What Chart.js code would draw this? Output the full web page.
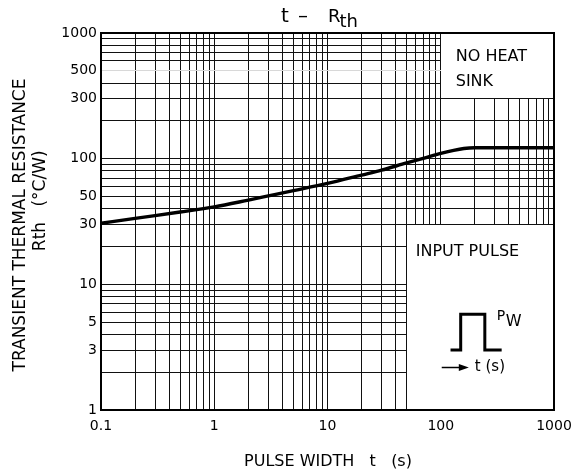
<!DOCTYPE html>
<html><head><meta charset="utf-8">
<script src="https://cdn.jsdelivr.net/npm/chart.js@4.4.0/dist/chart.umd.min.js"></script>
<style>html,body{margin:0;padding:0;background:#fff}#wrap{width:584px;height:475px;position:relative}</style>
</head><body><div id="wrap"><canvas id="c" width="584" height="475" style="width:584px;height:475px"></canvas></div>
<script>
// ---- data ----
const pulseWidth = [0.1, 0.2, 0.5, 1, 2, 3, 5, 10, 20, 30, 50, 70, 100, 130, 160, 200, 1000];
const thermalRes = [30.6, 33.5, 37.6, 41.3, 46.8, 50.5, 55.6, 63.5, 74, 81, 92.5, 100.5, 110, 116.5, 120.5, 122, 122];

const xTickValues = [0.1,0.2,0.3,0.4,0.5,0.6,0.7,0.8,0.9,1,2,3,4,5,6,7,8,9,10,20,30,40,50,60,70,80,90,100,200,300,400,500,600,700,800,900,1000];
const yTickValues = [1,2,3,4,5,6,7,8,9,10,20,30,40,50,60,70,80,90,100,200,300,400,500,600,700,800,900,1000];
const xTickLabels = [0.1, 1, 10, 100, 1000];
const yTickLabels = [1, 3, 5, 10, 30, 50, 100, 300, 500, 1000];
const fadedYGrid = [500];

// inset boxes (data units)
const noHeatSinkT = [100, 1000];
const noHeatSinkR = [300, 1000];
const inputPulseT = [50, 1000];
const inputPulseR = [1, 30];

// pulse symbol (data units)
const pulseIconT = [122, 150, 150, 245, 245, 345];
const pulseIconR = [3, 3, 5.77, 5.77, 3, 3];
const arrowT = [102, 177];
const arrowR = 2.18;

const FONT = '"DejaVu Sans", sans-serif';

const decor = {
  id: 'decor',
  beforeDatasetsDraw(chart) {
    const ctx = chart.ctx, xs = chart.scales.x, ys = chart.scales.y, a = chart.chartArea;
    ctx.save();
    ctx.fillStyle = '#fff';
    let x0 = Math.floor(xs.getPixelForValue(noHeatSinkT[0])) + 1;
    let y1 = Math.floor(ys.getPixelForValue(noHeatSinkR[0]));
    ctx.fillRect(x0, a.top + 1, a.right - x0 - 1, y1 - a.top - 1);
    x0 = Math.floor(xs.getPixelForValue(inputPulseT[0])) + 1;
    let y0 = Math.floor(ys.getPixelForValue(inputPulseR[1])) + 1;
    ctx.fillRect(x0, y0, a.right - x0 - 1, a.bottom - y0 - 1);
    ctx.strokeStyle = '#000';
    ctx.lineWidth = 2;
    ctx.strokeRect(a.left, a.top, a.right - a.left, a.bottom - a.top);
    ctx.restore();
  },
  afterDatasetsDraw(chart) {
    const ctx = chart.ctx, xs = chart.scales.x, ys = chart.scales.y;
    const X = v => xs.getPixelForValue(v), Y = v => ys.getPixelForValue(v);
    ctx.save();
    ctx.fillStyle = '#000';
    ctx.textBaseline = 'middle';
    ctx.textAlign = 'left';
    ctx.font = '16px ' + FONT;
    ctx.fillText('NO HEAT', X(135.6), Y(641));
    ctx.fillText('SINK', X(135.6), Y(405));
    ctx.fillText('INPUT PULSE', X(60.1), Y(18));
    ctx.font = '15px ' + FONT;
    ctx.fillText('t (s)', X(200), Y(arrowR));
    ctx.textBaseline = 'alphabetic';
    ctx.font = '14px ' + FONT;
    ctx.fillText('P', X(312), Y(5.17));
    ctx.font = '16px ' + FONT;
    ctx.fillText('W', X(374), Y(4.63));
    const ax0 = X(arrowT[0]), ax1 = X(arrowT[1]), ay = Math.round(Y(arrowR)) + 0.5;
    ctx.strokeStyle = '#000';
    ctx.lineWidth = 1.5;
    ctx.beginPath(); ctx.moveTo(ax0, ay); ctx.lineTo(ax1 - 8, ay); ctx.stroke();
    ctx.beginPath(); ctx.moveTo(ax1, ay); ctx.lineTo(ax1 - 10, ay - 3.5); ctx.lineTo(ax1 - 10, ay + 3.5); ctx.closePath(); ctx.fill();
    ctx.restore();
  },
  afterDraw(chart) {
    const ctx = chart.ctx;
    ctx.save();
    ctx.fillStyle = '#000';
    ctx.textBaseline = 'alphabetic';
    ctx.textAlign = 'left';
    ctx.font = '20px ' + FONT;
    ctx.fillText('t', 281, 22);
    ctx.fillText('\u2013', 298, 22);
    ctx.font = '18px ' + FONT;
    ctx.fillText('R', 328, 22);
    const rw = ctx.measureText('R').width;
    ctx.fillText('th', 328 + rw - 1, 27);
    ctx.textAlign = 'center';
    ctx.textBaseline = 'middle';
    ctx.font = '16px ' + FONT;
    ctx.fillText('PULSE WIDTH   t   (s)', 328, 462);
    ctx.font = '17px ' + FONT;
    ctx.save(); ctx.translate(21, 225); ctx.rotate(-Math.PI / 2);
    ctx.fillText('TRANSIENT THERMAL RESISTANCE', 0, 0); ctx.restore();
    ctx.save(); ctx.translate(41, 236.5); ctx.rotate(-Math.PI / 2);
    ctx.fillText('Rth', 0, 0); ctx.restore();
    ctx.save(); ctx.translate(41, 178.5); ctx.rotate(-Math.PI / 2);
    ctx.fillText('(\u00B0C/W)', 0, 0); ctx.restore();
    ctx.restore();
  }
};

const gridColor = ctx => (ctx.tick && fadedYGrid.includes(ctx.tick.value)) ? '#d8d8d8' : '#111';

new Chart(document.getElementById('c'), {
  type: 'line',
  data: {
    datasets: [
      {
        data: pulseWidth.map((t, i) => ({ x: t, y: thermalRes[i] })),
        borderColor: '#000', borderWidth: 3.4, pointRadius: 0,
        cubicInterpolationMode: 'monotone', fill: false
      },
      {
        data: pulseIconT.map((t, i) => ({ x: t, y: pulseIconR[i] })),
        borderColor: '#000', borderWidth: 3, pointRadius: 0, tension: 0, fill: false,
        borderJoinStyle: 'miter'
      }
    ]
  },
  options: {
    responsive: false,
    animation: false,
    devicePixelRatio: 1,
    layout: { padding: { top: 33, right: 30, left: 0, bottom: 0 } },
    plugins: { legend: { display: false }, tooltip: { enabled: false }, title: { display: false } },
    scales: {
      x: {
        type: 'logarithmic', min: 0.1, max: 1000,
        afterBuildTicks: s => { s.ticks = xTickValues.map(v => ({ value: v })); },
        afterFit: s => { s.height = 65; },
        grid: { color: '#111', lineWidth: 1, drawTicks: false },
        border: { display: false },
        ticks: {
          autoSkip: false, maxRotation: 0, padding: 8, color: '#000',
          font: { family: FONT, size: 14 },
          callback: v => xTickLabels.includes(v) ? String(v) : ''
        }
      },
      y: {
        type: 'logarithmic', min: 1, max: 1000,
        afterBuildTicks: s => { s.ticks = yTickValues.map(v => ({ value: v })); },
        afterFit: s => { s.width = 101; },
        grid: { color: gridColor, lineWidth: 1, drawTicks: false },
        border: { display: false },
        ticks: {
          autoSkip: false, padding: 4, color: '#000',
          font: { family: FONT, size: 14 },
          callback: v => yTickLabels.includes(v) ? String(v) : ''
        }
      }
    }
  },
  plugins: [decor]
});
</script>
</body></html>
